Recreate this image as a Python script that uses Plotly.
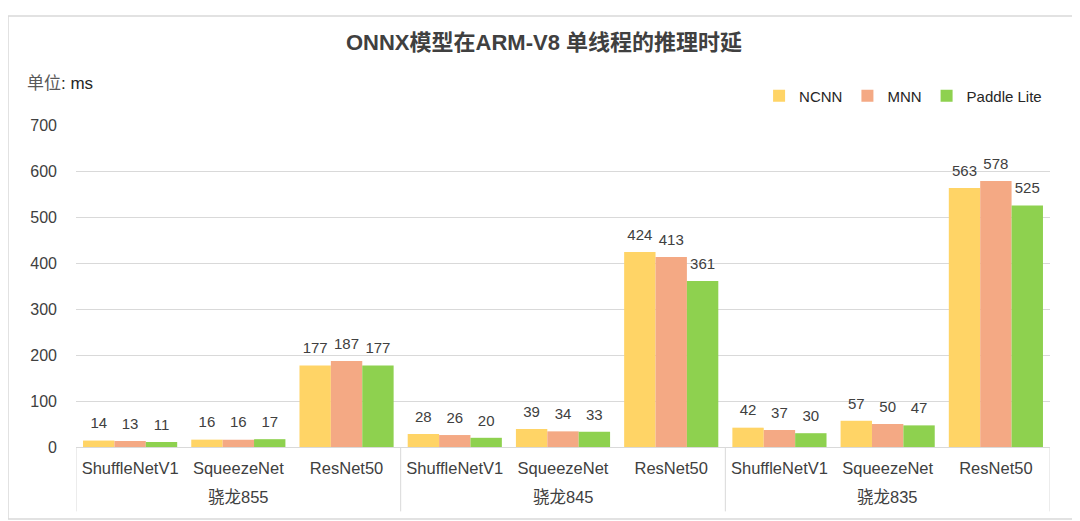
import plotly.graph_objects as go

chips = ["骁龙855", "骁龙845", "骁龙835"]
models = ["ShuffleNetV1", "SqueezeNet", "ResNet50"]
series_names = ["NCNN", "MNN", "Paddle Lite"]
ncnn = [14, 16, 177, 28, 39, 424, 42, 57, 563]
mnn = [13, 16, 187, 26, 34, 413, 37, 50, 578]
paddle = [11, 17, 177, 20, 33, 361, 30, 47, 525]
colors = ["#FFD466", "#F4A984", "#8ED14F"]

n_cat = len(chips) * len(models)
xpos = list(range(n_cat))
inner = [m for _ in chips for m in models]

fig = go.Figure()
for name, vals, col in zip(series_names, [ncnn, mnn, paddle], colors):
    fig.add_trace(go.Bar(
        x=xpos, y=vals, name=name, marker_color=col, offsetgroup=name,
        marker_line_width=0,
    ))
for name, vals in zip(series_names, [ncnn, mnn, paddle]):
    fig.add_trace(go.Scatter(
        x=xpos, y=vals, mode="markers+text", offsetgroup=name, showlegend=False,
        marker=dict(size=12, opacity=0), text=[str(v) for v in vals],
        textposition="top center", hoverinfo="skip", cliponaxis=False,
        textfont=dict(size=15, color="#404040", family="Liberation Sans, Arial"),
    ))

fig.update_layout(
    width=1072, height=513,
    margin=dict(l=68, r=30, t=117, b=74, autoexpand=False),
    paper_bgcolor="white", plot_bgcolor="white",
    barmode="group", bargap=0.13, bargroupgap=0,
    scattermode="group", scattergap=0.13,
    font=dict(family="Liberation Sans, Noto Sans CJK SC, Arial", color="#404040"),
    title=dict(text="<b>ONNX模型在ARM-V8 单线程的推理时延</b>", x=0.5, xanchor="center",
               y=0.934, yanchor="middle",
               font=dict(size=22, color="#404040", family="Liberation Sans, Noto Sans CJK SC")),
    legend=dict(orientation="h", x=0.997, xanchor="right", y=1.09, yanchor="middle",
                font=dict(size=15, color="#262626"), traceorder="normal", itemwidth=30,
                bgcolor="rgba(0,0,0,0)"),
    showlegend=True,
    yaxis=dict(range=[0, 700], dtick=100, showgrid=True, gridcolor="#D9D9D9", gridwidth=1,
               zeroline=False, showline=False, ticks="", ticklabelstandoff=18,
               tickfont=dict(size=16, color="#404040")),
    xaxis=dict(range=[-0.5, n_cat - 0.5], tickmode="array", tickvals=xpos, ticktext=inner,
               showline=True, linecolor="#D9D9D9", linewidth=1, showgrid=False, zeroline=False,
               ticks="", ticklabelstandoff=6,
               tickfont=dict(size=16.5, color="#404040", family="Liberation Sans, Arial"),
               automargin=False),
)

# outer category labels and dividers
for i, chip in enumerate(chips):
    center = i * len(models) + (len(models) - 1) / 2
    fig.add_annotation(text=chip, xref="x", yref="paper", x=center, y=-0.155,
                       xanchor="center", yanchor="middle", showarrow=False,
                       font=dict(size=16.5, color="#404040", family="Liberation Sans, Noto Sans CJK SC"))
for b in range(len(chips) + 1):
    xb = b * len(models) - 0.5
    fig.add_shape(type="line", xref="x", yref="paper", x0=xb, x1=xb, y0=0, y1=-0.2,
                  line=dict(color="#D9D9D9", width=1))

fig.add_annotation(text="<span style='color:#595959'>单位</span>: ms", xref="paper", yref="paper",
                   x=-0.0524, y=1.13, xanchor="left", yanchor="middle", showarrow=False,
                   font=dict(size=17, color="#262626", family="Liberation Sans, Noto Sans CJK SC"))

fig.add_shape(type="rect", xref="paper", yref="paper", x0=-0.0698, x1=1.0236, y0=-0.2236, y1=1.3385,
              line=dict(color="#D9D9D9", width=1.5), fillcolor="rgba(0,0,0,0)", layer="below")

fig.write_html("out.html")
